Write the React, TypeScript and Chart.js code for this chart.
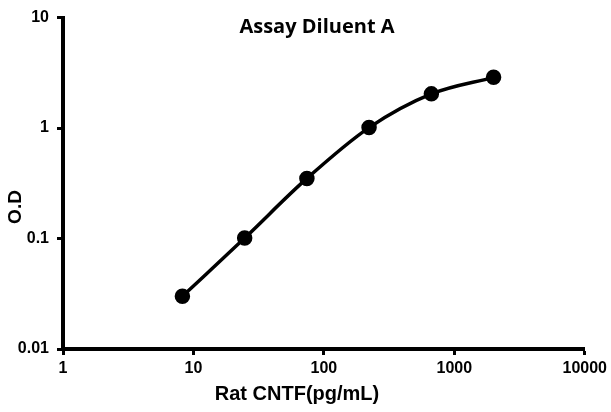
import React, { useEffect, useRef } from "react";
import { Chart, registerables } from "chart.js";

Chart.register(...registerables);

const concentrations = [8.23, 24.7, 74.1, 222, 667, 2000];
const odValues = [0.03, 0.101, 0.35, 1.01, 2.04, 2.88];
const xTickValues = [1, 10, 100, 1000, 10000];
const yTickValues = [0.01, 0.1, 1, 10];
const chartTitle = "Assay Diluent A";
const xTitle = "Rat CNTF(pg/mL)";
const yTitle = "O.D";

const ARIAL = "'Liberation Sans', Arial, sans-serif";

const titlePlugin = {
  id: "customTitles",
  afterDraw(chart: any) {
    const ctx = chart.ctx;
    ctx.save();
    ctx.fillStyle = "#000";
    ctx.textAlign = "center";
    ctx.textBaseline = "middle";
    ctx.font = "bold 20px 'Open Sans', sans-serif";
    ctx.fillText(chartTitle, 317, 27);
    ctx.font = `bold 20px ${ARIAL}`;
    ctx.fillText(xTitle, 297, 394);
    ctx.translate(16, 207);
    ctx.rotate(-Math.PI / 2);
    ctx.font = `bold 19px ${ARIAL}`;
    ctx.fillText(yTitle, 0, 0);
    ctx.restore();
  },
};

export default function App() {
  const ref = useRef<HTMLCanvasElement>(null);
  useEffect(() => {
    if (!ref.current) return;
    const tickFont = { family: ARIAL, size: 16, weight: "bold" as const };
    const chart = new Chart(ref.current, {
      type: "line",
      data: {
        datasets: [
          {
            data: concentrations.map((x, i) => ({ x, y: odValues[i] })),
            borderColor: "#000",
            backgroundColor: "#000",
            borderWidth: 3.5,
            pointRadius: 6,
            pointHoverRadius: 6,
            cubicInterpolationMode: "monotone",
          },
        ],
      },
      options: {
        animation: false,
        responsive: false,
        layout: { padding: { left: 0, top: 15, right: 26, bottom: 0 } },
        plugins: { legend: { display: false }, tooltip: { enabled: false }, title: { display: false } },
        scales: {
          x: {
            type: "logarithmic",
            min: 1,
            max: 10000,
            afterBuildTicks: (s: any) => {
              s.ticks = xTickValues.map((v) => ({ value: v }));
            },
            afterFit: (s: any) => {
              s.height = 63;
            },
            ticks: {
              color: "#000",
              font: tickFont,
              padding: 4,
              maxRotation: 0,
              autoSkip: false,
              callback: (v: any) => String(v),
            },
            grid: { drawOnChartArea: false, tickLength: 6, tickColor: "#000", tickWidth: 3 },
            border: { color: "#000", width: 4 },
          },
          y: {
            type: "logarithmic",
            min: 0.01,
            max: 10,
            afterBuildTicks: (s: any) => {
              s.ticks = yTickValues.map((v) => ({ value: v }));
            },
            afterFit: (s: any) => {
              s.width = 63;
            },
            ticks: {
              color: "#000",
              font: tickFont,
              padding: 8,
              autoSkip: false,
              callback: (v: any) => String(v),
            },
            grid: { drawOnChartArea: false, tickLength: 6, tickColor: "#000", tickWidth: 3 },
            border: { color: "#000", width: 4 },
          },
        },
      },
      plugins: [titlePlugin],
    });
    return () => chart.destroy();
  }, []);
  return (
    <div style={{ position: "fixed", left: 0, top: 0, width: 611, height: 412, background: "#fff" }}>
      <canvas ref={ref} width={611} height={412} style={{ width: 611, height: 412, display: "block" }} />
    </div>
  );
}
